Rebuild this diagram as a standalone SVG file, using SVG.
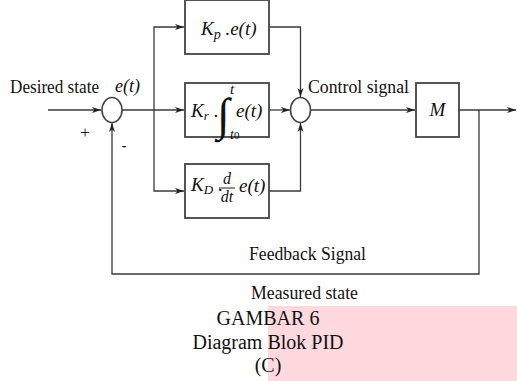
<svg xmlns="http://www.w3.org/2000/svg" width="517" height="381" viewBox="0 0 517 381">
<style>
.ln{fill:none;stroke:#3a3a3a;stroke-width:1.3}
.box{fill:#fff;stroke:#444;stroke-width:1.8}
.sum{fill:#fff;stroke:#444;stroke-width:1.6}
text{font-family:"Liberation Serif","Times New Roman",serif;fill:#111}
.lbl{font-size:18px}
.cap{font-size:20px;text-anchor:middle}
.it{font-style:italic}
</style>
<defs>
<marker id="arr" markerUnits="userSpaceOnUse" markerWidth="10" markerHeight="8" refX="9" refY="3.5" orient="auto">
<path d="M0,0.5 L9,3.5 L0,6.5 L2.5,3.5 Z" fill="#222"/>
</marker>
</defs>
<rect x="268" y="306" width="249" height="75" fill="#ffd9de"/>
<g id="connectors">
<path class="ln" d="M48,110 H101" marker-end="url(#arr)"/>
<path class="ln" d="M122,110 H184" marker-end="url(#arr)"/>
<path class="ln" d="M154,110 V27 H184" marker-end="url(#arr)"/>
<path class="ln" d="M154,110 V191 H184" marker-end="url(#arr)"/>
<path class="ln" d="M269,27 H300.5 V97" marker-end="url(#arr)"/>
<path class="ln" d="M269,110 H290" marker-end="url(#arr)"/>
<path class="ln" d="M269,191 H300.5 V123" marker-end="url(#arr)"/>
<path class="ln" d="M311,110 H415" marker-end="url(#arr)"/>
<path class="ln" d="M459,110 H516" marker-end="url(#arr)"/>
<path class="ln" d="M479,110 V274 H112 V123" marker-end="url(#arr)"/>
</g>
<g id="sum1">
<ellipse class="sum" cx="112" cy="110" rx="10" ry="12.5"/>
<text class="lbl it" x="115" y="92">e(t)</text>
<text x="85" y="138" font-size="17" text-anchor="middle">+</text>
<text x="124" y="150" font-size="14" font-weight="bold" text-anchor="middle">-</text>
</g>
<g id="input-label">
<text class="lbl" x="10" y="93" textLength="89" lengthAdjust="spacingAndGlyphs">Desired state</text>
</g>
<g id="kp">
<rect class="box" x="185" y="0" width="84" height="54"/>
<text class="it" font-size="19" x="201" y="35">K<tspan font-size="14" dy="4">p</tspan><tspan font-size="19" dy="-4"> .e(t)</tspan></text>
</g>
<g id="ki">
<rect class="box" x="185" y="83" width="84" height="54"/>
<text class="it" font-size="19" x="191" y="117">K<tspan font-size="13" dy="3">r</tspan><tspan font-style="normal" dy="-3"> .</tspan></text>
<text x="217" y="130" font-size="46" font-style="normal">∫</text>
<text x="230" y="94" font-size="15" class="it">t</text>
<text x="230" y="139" font-size="14" class="it">t<tspan font-style="normal" font-size="11">0</tspan></text>
<text class="it" font-size="19" x="236" y="117">e(t)</text>
</g>
<g id="kd">
<rect class="box" x="185" y="164" width="84" height="54"/>
<text class="it" font-size="19" x="191" y="191">K<tspan font-size="13" dy="3">D</tspan><tspan font-style="normal" dy="-3"> .</tspan></text>
<text x="227" y="184" font-size="16" class="it" text-anchor="middle">d</text>
<line x1="219" y1="188" x2="235" y2="188" stroke="#222" stroke-width="1"/>
<text x="227" y="202" font-size="16" class="it" text-anchor="middle">dt</text>
<text class="it" font-size="19" x="239" y="192">e(t)</text>
</g>
<g id="sum2">
<ellipse class="sum" cx="300.5" cy="110" rx="10" ry="12.5"/>
<text class="lbl" x="308" y="93" textLength="101" lengthAdjust="spacingAndGlyphs">Control signal</text>
</g>
<g id="m">
<rect class="box" x="416" y="83" width="43" height="54"/>
<text class="it" font-size="19" x="437.5" y="116" text-anchor="middle">M</text>
</g>
<g id="labels">
<text class="lbl" x="249" y="260" textLength="117" lengthAdjust="spacingAndGlyphs">Feedback Signal</text>
<text class="lbl" x="251" y="299" textLength="107" lengthAdjust="spacingAndGlyphs">Measured state</text>
<text class="cap" x="268" y="325">GAMBAR 6</text>
<text class="cap" x="268" y="349">Diagram Blok PID</text>
<text class="cap" x="268" y="372">(C)</text>
</g>
</svg>
